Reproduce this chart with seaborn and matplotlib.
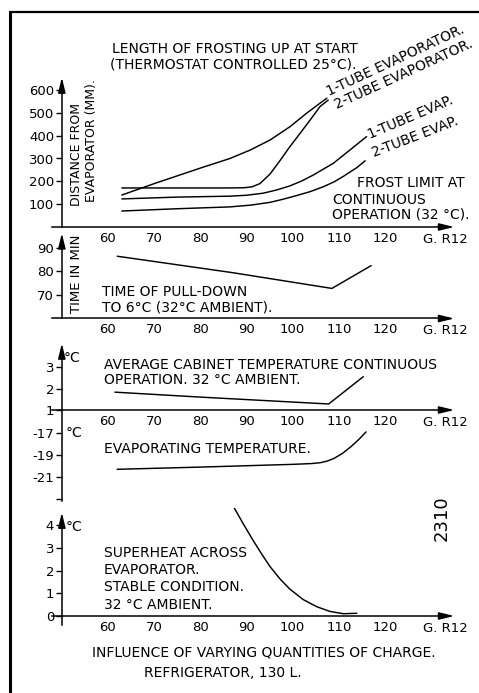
import matplotlib
matplotlib.use("Agg")
import matplotlib.pyplot as plt
import matplotlib.transforms as mtransforms
import seaborn as sns
from matplotlib.lines import Line2D

sns.set_theme(style="ticks")
plt.rcParams['font.family'] = ['DejaVu Sans']
plt.rcParams['text.color'] = 'black'

W, H = 479, 693
INK = 'black'

# ---- data: charge of R12 in grams on the x axis ----
charge_ticks = [60, 70, 80, 90, 100, 110, 120]

# Length of frosting up at start (mm), thermostat controlled 25 °C
start_1tube_x = [63, 70, 80, 86.4, 90.8, 95.1, 99.4, 103, 105.9, 107.4]
start_1tube_y = [140, 190, 258, 300, 337, 381, 439, 498, 542, 564]
start_2tube_x = [63, 75, 86.4, 89.5, 91.2, 92.9, 95.1, 97.3, 99.4, 101.6, 103.8, 105.9, 107.7]
start_2tube_y = [171, 171, 171, 172, 176, 190, 232, 292, 352, 410, 469, 527, 556]

# Frost limit at continuous operation (mm), 32 °C
cont_1tube_x = [63, 75, 86.4, 90, 93.6, 96.5, 99.4, 102, 104.5, 108.8, 112.4, 116]
cont_1tube_y = [123, 131, 135, 139, 148, 162, 180, 202, 228, 279, 337, 396]
cont_2tube_x = [63, 75, 86.4, 91, 95.1, 98, 100.9, 103.8, 106.6, 109, 111, 113.9, 115.7]
cont_2tube_y = [70, 80, 88, 96, 108, 122, 138, 155, 176, 198, 222, 260, 290]

# Time of pull-down to 6 °C (min)
pulldown_x = [62, 87, 108.5, 117]
pulldown_y = [86.5, 79.5, 72.8, 82.5]

# Average cabinet temperature (°C)
cabinet_x = [61.5, 80, 107.8, 115.3]
cabinet_y = [1.83, 1.6, 1.28, 2.55]

# Evaporating temperature (°C)
evap_x = [62, 80, 100, 104, 106, 107.5, 109, 110.8, 112.6, 114.3, 115.9]
evap_y = [-20.3, -20.1, -19.85, -19.78, -19.7, -19.55, -19.3, -18.85, -18.25, -17.6, -16.9]

# Superheat across evaporator (°C)
superheat_x = [87.1, 89.3, 91.5, 93.3, 95.1, 97.3, 99.4, 102.3, 105.2, 108.1, 111.0, 113.9]
superheat_y = [4.84, 4.05, 3.30, 2.72, 2.17, 1.62, 1.18, 0.72, 0.41, 0.20, 0.10, 0.12]

# ---- layout helpers (pixel geometry of the sheet) ----
X0_PX, X0_V = 108, 60
PX_PER_G = 277 / 60
AX_L, AX_R = 40, 470


def g_at(px):
    return X0_V + (px - X0_PX) / PX_PER_G


fig = plt.figure(figsize=(W / 100, H / 100), dpi=100)
fig.patch.set_facecolor('white')


def ftext(x, y, s, **kw):
    kw.setdefault('fontsize', 10)
    kw.setdefault('ha', 'left')
    kw.setdefault('va', 'center')
    fig.text(x / W, 1 - y / H, s, color=INK, **kw)


def make_panel(ref_a, ref_b, top_px, bot_px):
    (pa, va), (pb, vb) = ref_a, ref_b
    k = (va - vb) / (pb - pa)
    v_top = va + (pa - top_px) * k
    v_bot = va - (bot_px - pa) * k
    ax = fig.add_axes([AX_L / W, 1 - bot_px / H, (AX_R - AX_L) / W, (bot_px - top_px) / H])
    ax.set_xlim(g_at(AX_L), g_at(AX_R))
    ax.set_ylim(v_bot, v_top)
    ax.patch.set_alpha(0)
    for s in ax.spines.values():
        s.set_visible(False)
    return ax


def arrow(ax, start, end):
    ax.annotate('', xy=end, xytext=start, xycoords='data',
                arrowprops=dict(arrowstyle='-|>,head_length=0.9,head_width=0.22',
                                lw=1.1, color=INK, shrinkA=0, shrinkB=0,
                                mutation_scale=10), annotation_clip=False)


def y_axis(ax, lo, hi, ticks, labels=None, arrow_top=None):
    sp = ax.spines['left']
    sp.set_visible(True)
    sp.set_position(('data', 50))
    sp.set_bounds(lo, hi)
    sp.set_color(INK)
    sp.set_linewidth(1.1)
    ax.set_yticks(ticks)
    if labels is not None:
        ax.set_yticklabels(labels)
    ax.tick_params(axis='y', direction='out', length=4, width=1.0, pad=1.5,
                   labelsize=9.5, colors=INK)
    if arrow_top is not None:
        arrow(ax, (50, hi), (50, arrow_top))


def x_axis(ax, y0, label_pad=3.5):
    sp = ax.spines['bottom']
    sp.set_visible(True)
    sp.set_position(('data', y0))
    sp.set_bounds(47.9, 133)
    sp.set_color(INK)
    sp.set_linewidth(1.1)
    arrow(ax, (133, y0), (135, y0))
    ax.set_xticks(charge_ticks)
    ax.tick_params(axis='x', length=0, pad=label_pad, labelsize=9.5, colors=INK)
    offset = mtransforms.ScaledTranslation(0, -(label_pad + 0.5) / 72, fig.dpi_scale_trans)
    ax.text(133, y0, 'G. R12', ha='center', va='top', fontsize=9.5, color=INK,
            transform=ax.transData + offset)


def curve(ax, xs, ys):
    sns.lineplot(x=xs, y=ys, ax=ax, color=INK, lw=1.05, sort=False, estimator=None)


# ---- panel 1: length of frosting ----
ax1 = make_panel((90, 600), (227, 0), 70, 236)
curve(ax1, start_1tube_x, start_1tube_y)
curve(ax1, start_2tube_x, start_2tube_y)
curve(ax1, cont_1tube_x, cont_1tube_y)
curve(ax1, cont_2tube_x, cont_2tube_y)
y_axis(ax1, 0, 620, [100, 200, 300, 400, 500, 600], arrow_top=655)
x_axis(ax1, 0)

# ---- panel 2: pull-down time ----
ax2 = make_panel((248, 90), (295, 70), 230, 324)
curve(ax2, pulldown_x, pulldown_y)
y_axis(ax2, 60, 93, [70, 80, 90], arrow_top=96.3)
x_axis(ax2, 60)

# ---- panel 3: cabinet temperature ----
ax3 = make_panel((367, 3), (410, 1), 338, 415)
curve(ax3, cabinet_x, cabinet_y)
y_axis(ax3, 1, 3.4, [1, 2, 3], arrow_top=4.1)
x_axis(ax3, 1)

# ---- panel 4: evaporating temperature ----
ax4 = make_panel((433, -17), (477, -21), 410, 502)
curve(ax4, evap_x, evap_y)
y_axis(ax4, -23.15, -14.9, [-23, -21, -19, -17], labels=['', '-21', '-19', '-17'])
ax4.set_xticks([])

# ---- panel 5: superheat ----
ax5 = make_panel((525, 4), (616, 0), 508, 628)
curve(ax5, superheat_x, superheat_y)
y_axis(ax5, -0.4, 4.1, [0, 1, 2, 3, 4], arrow_top=4.55)
x_axis(ax5, 0)

# ---- captions ----
ftext(112, 49, 'LENGTH OF FROSTING UP AT START')
ftext(110, 64, '(THERMOSTAT CONTROLLED 25°C).')
for s, x, y, rot in [('1-TUBE EVAPORATOR.', 329, 96, 25),
                     ('2-TUBE EVAPORATOR.', 337, 109, 24.5),
                     ('1-TUBE EVAP.', 370, 139, 23),
                     ('2-TUBE EVAP.', 374, 157, 21)]:
    ftext(x, y, s, rotation=rot, rotation_mode='anchor', va='baseline')
ftext(357, 183, 'FROST LIMIT AT')
ftext(332, 200, 'CONTINUOUS')
ftext(332, 215, 'OPERATION (32 °C).')
ftext(77, 206, 'DISTANCE FROM', rotation=90, rotation_mode='anchor', fontsize=9)
ftext(91, 202, 'EVAPORATOR (MM).', rotation=90, rotation_mode='anchor', fontsize=9)

ftext(76, 313, 'TIME IN MIN', rotation=90, rotation_mode='anchor', fontsize=9.5)
ftext(102, 292, 'TIME OF PULL-DOWN')
ftext(102, 307, 'TO 6°C (32°C AMBIENT).')

ftext(64, 358, '°C')
ftext(104, 365, 'AVERAGE CABINET TEMPERATURE CONTINUOUS')
ftext(104, 380, 'OPERATION. 32 °C AMBIENT.')

ftext(66, 433, '°C')
ftext(104, 449, 'EVAPORATING TEMPERATURE.')

ftext(66, 527, '°C')
ftext(104, 553, 'SUPERHEAT ACROSS')
ftext(104, 570, 'EVAPORATOR.')
ftext(104, 587, 'STABLE CONDITION.')
ftext(104, 605, '32 °C AMBIENT.')

ftext(264, 653, 'INFLUENCE OF VARYING QUANTITIES OF CHARGE.', ha='center')
ftext(223, 673, 'REFRIGERATOR, 130 L.', ha='center')

ftext(442, 518, '2310', rotation=90, ha='center', fontsize=13)

# ---- sheet frame ----
fig.add_artist(Line2D([10 / W, 10 / W], [1 - 12 / H, 0], color=INK, lw=2.2,
                      transform=fig.transFigure))
fig.add_artist(Line2D([10 / W, 1], [1 - 12 / H, 1 - 12 / H], color=INK, lw=1.6,
                      transform=fig.transFigure))

fig.savefig('out.png', dpi=100, facecolor='white')
